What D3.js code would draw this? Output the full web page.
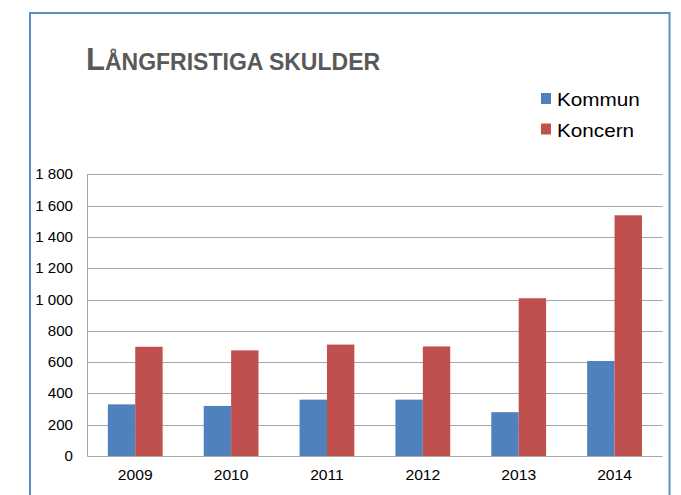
<!DOCTYPE html>
<html>
<head>
<meta charset="utf-8">
<script src="https://cdnjs.cloudflare.com/ajax/libs/d3/7.8.5/d3.min.js"></script>
<style>
    body { margin: 0; background: #fff; }
    svg { display: block; font-family: "Liberation Sans", Arial, sans-serif; }
</style>
</head>
<body>
<div id="chart"></div>
<script>
// Data (miljoner kr)
var years = ["2009", "2010", "2011", "2012", "2013", "2014"];
var kommun = [330, 320, 360, 360, 280, 607];
var koncern = [698, 675, 712, 700, 1008, 1538];
var seriesNames = ["Kommun", "Koncern"];
var seriesColors = ["#4f81bd", "#c0504d"];
var yTicks = [0, 200, 400, 600, 800, 1000, 1200, 1400, 1600, 1800];

var WIDTH = 681, HEIGHT = 495;
var PLOT = { left: 87.3, right: 662.5, top: 174.3, bottom: 456 };

var svg = d3.select("#chart").append("svg")
    .attr("width", WIDTH)
    .attr("height", HEIGHT);

// Frame around the whole chart
svg.append("rect")
    .attr("x", 30)
    .attr("y", 13)
    .attr("width", 639.5)
    .attr("height", 520)
    .attr("fill", "#fff")
    .attr("stroke", "#5a90c4")
    .attr("stroke-width", 2);

var x = d3.scaleBand()
    .domain(years)
    .range([PLOT.left, PLOT.right])
    .padding(0);

var y = d3.scaleLinear()
    .domain([0, 1800])
    .range([PLOT.bottom, PLOT.top]);

// Excel style gap width 150%: band = 2 bars + 1.5 bars of gap
var barW = x.bandwidth() / 3.5;
var gap = barW * 0.75;

/**
 * Draws a text with the horizontal stretch seen in the reference
 */
function stretchedText(parent, tx, ty, anchor, size, stretch, str) {
    return parent.append("text")
        .attr("transform", "translate(" + tx + "," + ty + ") scale(" + stretch + ",1)")
        .attr("text-anchor", anchor)
        .attr("font-size", size)
        .attr("fill", "#000")
        .text(str);
}

// Gridlines
svg.append("g").selectAll("line").data(yTicks.slice(1)).enter().append("line")
    .attr("x1", PLOT.left)
    .attr("x2", PLOT.right)
    .attr("y1", function(d) { return Math.round(y(d)) + 0.5; })
    .attr("y2", function(d) { return Math.round(y(d)) + 0.5; })
    .attr("stroke", "#a6a6a6")
    .attr("stroke-width", 1);

// Bars
var series = [kommun, koncern];
series.forEach(function(values, s) {
    svg.append("g").selectAll("rect").data(values).enter().append("rect")
        .attr("x", function(d, i) { return x(years[i]) + gap + s * barW; })
        .attr("y", function(d) { return y(d); })
        .attr("width", barW)
        .attr("height", function(d) { return y(0) - y(d); })
        .attr("fill", seriesColors[s]);
});

// Axis lines
svg.append("line")
    .attr("x1", PLOT.left).attr("x2", PLOT.right)
    .attr("y1", Math.round(y(0)) + 0.5).attr("y2", Math.round(y(0)) + 0.5)
    .attr("stroke", "#a6a6a6");
svg.append("line")
    .attr("x1", Math.round(PLOT.left) + 0.5).attr("x2", Math.round(PLOT.left) + 0.5)
    .attr("y1", PLOT.top).attr("y2", PLOT.bottom)
    .attr("stroke", "#a6a6a6");

// Y tick labels, space as thousands separator
var fmt = d3.formatLocale({ decimal: ",", thousands: " ", grouping: [3], currency: ["", ""] }).format(",d");
yTicks.forEach(function(t) {
    stretchedText(svg, 73, y(t) + 5, "end", 14, 1.08, fmt(t));
});

// X labels
years.forEach(function(yr) {
    stretchedText(svg, x(yr) + x.bandwidth() / 2, 479.5, "middle", 14.5, 1.08, yr);
});

// Title in small caps
var title = svg.append("text")
    .attr("x", 86)
    .attr("y", 70)
    .attr("font-weight", "bold")
    .attr("fill", "#595959");
title.append("tspan").attr("font-size", 31).text("L");
title.append("tspan").attr("font-size", 23).text("ÅNGFRISTIGA SKULDER");

// Legend
seriesNames.forEach(function(name, i) {
    svg.append("rect")
        .attr("x", 541)
        .attr("y", 93 + i * 30.5)
        .attr("width", 10)
        .attr("height", 11)
        .attr("fill", seriesColors[i]);
    stretchedText(svg, 557, 106 + i * 30.5, "start", 18, 1.15, name);
});
</script>
</body>
</html>
